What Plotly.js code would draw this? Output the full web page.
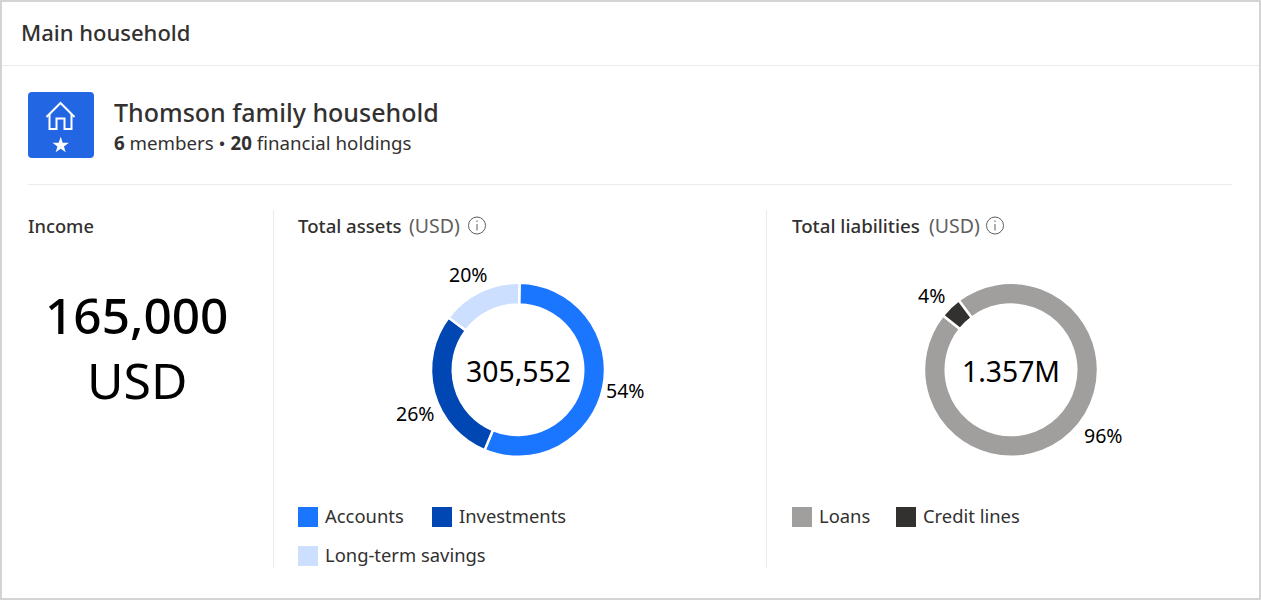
<!DOCTYPE html>
<html>
<head>
<meta charset="utf-8">
<script src="https://cdn.plot.ly/plotly-3.0.1.min.js"></script>
<style>html,body{margin:0;padding:0;background:#fff;overflow:hidden}#c{width:1261px;height:600px}</style>
</head>
<body>
<div id="c"></div>
<script>
const assetCategories = ['Accounts', 'Investments', 'Long-term savings'];
const assetShares = [56, 29, 15];
const assetLabels = ['54%', '26%', '20%'];
const assetColors = ['#1a76ff', '#0047b3', '#ccdfff'];
const assetTotal = '305,552';

const liabilityCategories = ['Loans', 'Credit lines'];
const liabilityShares = [96, 4];
const liabilityLabels = ['96%', '4%'];
const liabilityColors = ['#a19f9d', '#323130'];
const liabilityTotal = '1.357M';

const incomeValue = '165,000';
const incomeUnit = 'USD';

const W = 1261, H = 600;
const FONT = '"Noto Sans", sans-serif';
const DARK = '#323130', MID = '#605e5c';
const px = x => x / W, py = y => 1 - y / H;

function ring(cx, cy, r, rotation, values, colors, names) {
  return {
    type: 'pie', hole: 0.75, sort: false, direction: 'clockwise', rotation,
    values, labels: names, textinfo: 'none', hoverinfo: 'label+percent',
    showlegend: false,
    marker: {colors, line: {color: '#ffffff', width: 2.5}},
    domain: {x: [px(cx - r), px(cx + r)], y: [py(cy + r), py(cy - r)]}
  };
}

const shapes = [], annotations = [];
function rect(x0, y0, x1, y1, color) {
  shapes.push({type: 'rect', xref: 'paper', yref: 'paper', x0: px(x0), x1: px(x1), y0: py(y0), y1: py(y1),
    fillcolor: color, line: {width: 0}});
}
function pathOf(points, close) {
  return 'M' + points.map(p => px(p[0]) + ',' + py(p[1])).join(' L') + (close ? ' Z' : '');
}
function path(points, opt) {
  shapes.push(Object.assign({type: 'path', xref: 'paper', yref: 'paper', path: pathOf(points, opt.close)}, opt.style));
}
function text(t, x, y, size, color, weight, anchor) {
  annotations.push({text: t, xref: 'paper', yref: 'paper', x: px(anchor ? x : x - 2), y: py(y), showarrow: false,
    xanchor: anchor || 'left', yanchor: 'middle', align: 'left',
    font: {family: FONT, size, color, weight: weight || 400}});
}

// card frame
rect(0, 0, W, 2, '#d4d4d4'); rect(0, 598, W, 600, '#d4d4d4');
rect(0, 0, 2, H, '#d4d4d4'); rect(1259, 0, 1261, H, '#d4d4d4');
rect(2, 65, 1259, 66, '#edebe9');
rect(28, 184, 1232, 185, '#edebe9');
rect(273, 210, 274, 568, '#edebe9');
rect(766, 210, 767, 568, '#edebe9');

// household icon
shapes.push({type: 'path', xref: 'paper', yref: 'paper', fillcolor: '#2266e3', line: {width: 0},
  path: 'M' + px(32) + ',' + py(92) + ' L' + px(90) + ',' + py(92) + ' Q' + px(94) + ',' + py(92) + ' ' + px(94) + ',' + py(96) +
        ' L' + px(94) + ',' + py(154) + ' Q' + px(94) + ',' + py(158) + ' ' + px(90) + ',' + py(158) +
        ' L' + px(32) + ',' + py(158) + ' Q' + px(28) + ',' + py(158) + ' ' + px(28) + ',' + py(154) +
        ' L' + px(28) + ',' + py(96) + ' Q' + px(28) + ',' + py(92) + ' ' + px(32) + ',' + py(92) + ' Z'});
const white = {line: {color: '#ffffff', width: 2}, fillcolor: 'rgba(0,0,0,0)'};
path([[49.5,114], [49.5,129], [56.5,129], [56.5,118.5], [64.5,118.5], [64.5,129], [71.5,129], [71.5,114]], {style: white});
path([[46.5,117], [60.5,103], [74.5,117]], {style: white});
const star = [];
for (let i = 0; i < 10; i++) {
  const a = Math.PI * i / 5, r = i % 2 ? 3.4 : 8.6;
  star.push([60.7 + r * Math.sin(a), 145.4 - r * Math.cos(a)]);
}
path(star, {close: true, style: {fillcolor: '#ffffff', line: {width: 0}}});

// header texts
text('Main household', 21, 32, 22, DARK, 500);
text('Thomson family household', 114, 112, 25, DARK, 500);
text('<b>6</b> members • <b>20</b> financial holdings', 114, 143, 18.7, DARK, 400);

// section heads
text('Income', 28, 225, 18.3, DARK, 500);
text('Total assets', 298, 225, 18.6, DARK, 500);
text('(USD)', 409, 225, 19.5, MID, 400);
text('Total liabilities', 792, 225, 18.7, DARK, 500);
text('(USD)', 929, 225, 19.5, MID, 400);
[477, 995].forEach(x => {
  shapes.push({type: 'circle', xref: 'paper', yref: 'paper', x0: px(x - 8.5), x1: px(x + 8.5), y0: py(234), y1: py(217),
    line: {color: MID, width: 1}, fillcolor: 'rgba(0,0,0,0)'});
  rect(x - 0.5, 224, x + 0.5, 230.5, MID);
  rect(x - 0.5, 220.5, x + 0.5, 222, MID);
});

// income
text(incomeValue, 136.5, 315, 49.5, '#000000', 500, 'center');
text(incomeUnit, 137.5, 380, 50, '#000000', 400, 'center');

// centre totals and ring labels
text(assetTotal, 518.5, 371, 28.4, '#000000', 400, 'center');
text(liabilityTotal, 1011, 371, 28.3, '#000000', 400, 'center');
const assetLabelAt = [[625, 391], [415, 414], [468, 275]];
assetLabels.forEach((t, i) => text(t, assetLabelAt[i][0], assetLabelAt[i][1], 19.5, '#000000', 400, 'center'));
const liabilityLabelAt = [[1103.5, 435], [931, 295]];
liabilityLabels.forEach((t, i) => text(t, liabilityLabelAt[i][0], liabilityLabelAt[i][1], 19.5, '#000000', 400, 'center'));

// legends
const legendAt = [[298, 507], [432, 507], [298, 546]];
assetCategories.forEach((t, i) => {
  const [x, y] = legendAt[i];
  rect(x, y, x + 20, y + 20, assetColors[i]);
  text(t, x + 27, y + 8, 18.4, DARK, 400);
});
const legendAt2 = [[792, 507], [896, 507]];
liabilityCategories.forEach((t, i) => {
  const [x, y] = legendAt2[i];
  rect(x, y, x + 20, y + 20, liabilityColors[i]);
  text(t, x + 27, y + 8, 18.4, DARK, 400);
});

const traces = [
  ring(518, 369.8, 87, 1, assetShares, assetColors, assetCategories),
  ring(1011, 369.8, 87, -37, liabilityShares, liabilityColors, liabilityCategories)
];
Plotly.newPlot('c', traces, {
  width: W, height: H, margin: {l: 0, r: 0, t: 0, b: 0},
  paper_bgcolor: '#ffffff', showlegend: false, shapes, annotations, font: {family: FONT}
}, {displayModeBar: false, responsive: false});
</script>
</body>
</html>
